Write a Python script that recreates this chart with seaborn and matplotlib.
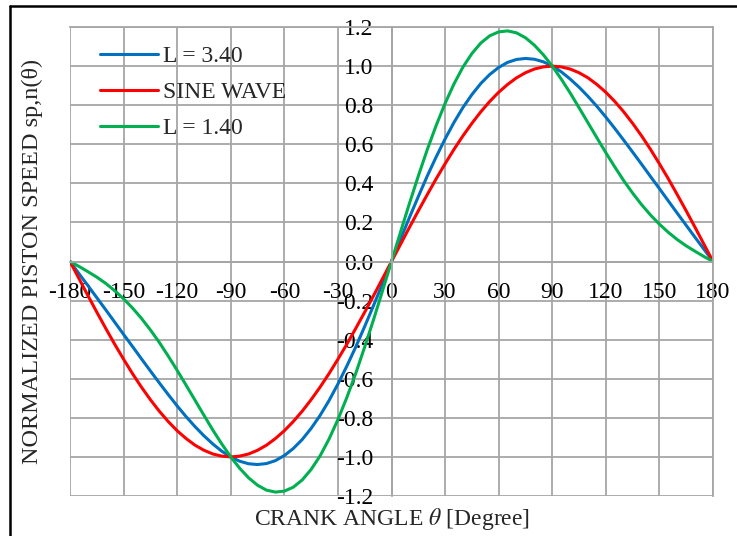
import matplotlib
matplotlib.use("Agg")
import matplotlib.pyplot as plt
import seaborn as sns
import pandas as pd
from matplotlib.lines import Line2D

# Crank angle in degrees (5 degree steps)
theta = [-180, -175, -170, -165, -160, -155, -150, -145, -140, -135, -130, -125,
         -120, -115, -110, -105, -100, -95, -90, -85, -80, -75, -70, -65,
         -60, -55, -50, -45, -40, -35, -30, -25, -20, -15, -10, -5,
         0, 5, 10, 15, 20, 25, 30, 35, 40, 45, 50, 55,
         60, 65, 70, 75, 80, 85, 90, 95, 100, 105, 110, 115,
         120, 125, 130, 135, 140, 145, 150, 155, 160, 165, 170, 175, 180]

# Normalized piston speed, rod ratio L = 3.40
speed_l340 = [0.0, -0.062, -0.123, -0.185, -0.247, -0.310, -0.373, -0.435, -0.498, -0.560,
              -0.621, -0.681, -0.739, -0.794, -0.845, -0.892, -0.934, -0.971, -1.0,
              -1.022, -1.035, -1.039, -1.034, -1.019, -0.993, -0.957, -0.911, -0.854,
              -0.788, -0.712, -0.627, -0.535, -0.437, -0.332, -0.224, -0.113,
              0.0, 0.113, 0.224, 0.332, 0.437, 0.535, 0.627, 0.712, 0.788, 0.854,
              0.911, 0.957, 0.993, 1.019, 1.034, 1.039, 1.035, 1.022, 1.0,
              0.971, 0.934, 0.892, 0.845, 0.794, 0.739, 0.681, 0.621, 0.560,
              0.498, 0.435, 0.373, 0.310, 0.247, 0.185, 0.123, 0.062, 0.0]

# Pure sine wave reference
speed_sine = [0.0, -0.087, -0.174, -0.259, -0.342, -0.423, -0.5, -0.574, -0.643, -0.707,
              -0.766, -0.819, -0.866, -0.906, -0.940, -0.966, -0.985, -0.996, -1.0,
              -0.996, -0.985, -0.966, -0.940, -0.906, -0.866, -0.819, -0.766, -0.707,
              -0.643, -0.574, -0.5, -0.423, -0.342, -0.259, -0.174, -0.087,
              0.0, 0.087, 0.174, 0.259, 0.342, 0.423, 0.5, 0.574, 0.643, 0.707,
              0.766, 0.819, 0.866, 0.906, 0.940, 0.966, 0.985, 0.996, 1.0,
              0.996, 0.985, 0.966, 0.940, 0.906, 0.866, 0.819, 0.766, 0.707,
              0.643, 0.574, 0.5, 0.423, 0.342, 0.259, 0.174, 0.087, 0.0]

# Normalized piston speed, rod ratio L = 1.40
speed_l140 = [0.0, -0.025, -0.052, -0.080, -0.112, -0.149, -0.191, -0.238, -0.291, -0.350,
              -0.414, -0.484, -0.557, -0.633, -0.710, -0.787, -0.863, -0.934, -1.0,
              -1.058, -1.107, -1.145, -1.170, -1.180, -1.175, -1.155, -1.118, -1.064,
              -0.995, -0.909, -0.809, -0.696, -0.572, -0.437, -0.296, -0.149,
              0.0, 0.149, 0.296, 0.437, 0.572, 0.696, 0.809, 0.909, 0.995, 1.064,
              1.118, 1.155, 1.175, 1.180, 1.170, 1.145, 1.107, 1.058, 1.0,
              0.934, 0.863, 0.787, 0.710, 0.633, 0.557, 0.484, 0.414, 0.350,
              0.291, 0.238, 0.191, 0.149, 0.112, 0.080, 0.052, 0.025, 0.0]

series_names = ["L = 3.40", "SINE WAVE", "L = 1.40"]
series_colors = ["#0070C0", "#FF0000", "#00B050"]

x_ticks = [-180, -150, -120, -90, -60, -30, 0, 30, 60, 90, 120, 150, 180]
y_ticks = [-1.2, -1.0, -0.8, -0.6, -0.4, -0.2, 0.0, 0.2, 0.4, 0.6, 0.8, 1.0, 1.2]

df = pd.DataFrame({
    "theta": theta * 3,
    "speed": speed_l340 + speed_sine + speed_l140,
    "series": [series_names[0]] * len(theta) + [series_names[1]] * len(theta)
              + [series_names[2]] * len(theta),
})

sns.set_style("white")
plt.rcParams["font.family"] = ["Liberation Serif", "DejaVu Serif"]
plt.rcParams["mathtext.fontset"] = "stix"

FS = 17

fig = plt.figure(figsize=(7.37, 5.36), dpi=100)
ax = fig.add_axes([70 / 737, 1 - 496 / 536, 643 / 737, 469 / 536])

grid_color = "#A6A6A6"
sns.lineplot(data=df, x="theta", y="speed", hue="series", hue_order=series_names,
             palette=series_colors, linewidth=2.2, ax=ax, legend=False, sort=False)

ax.set_xlim(-180, 180)
ax.set_ylim(-1.2, 1.2)
ax.set_xticks(x_ticks)
ax.set_yticks(y_ticks)
ax.set_xticklabels([str(v) for v in x_ticks])
ax.set_yticklabels([f"{v:.1f}" for v in y_ticks])
ax.grid(True, color=grid_color, linewidth=1.3)
ax.set_axisbelow(True)

for side in ["left", "bottom"]:
    ax.spines[side].set_position(("data", 0))
for side in ax.spines:
    ax.spines[side].set_color(grid_color)
    ax.spines[side].set_linewidth(1.3)

ax.tick_params(axis="both", length=0, labelsize=FS, colors="black")
ax.tick_params(axis="y", pad=13)
ax.tick_params(axis="x", pad=15)

ax.set_xlabel(r"CRANK ANGLE $\theta$ [Degree]", fontsize=FS)
ax.set_ylabel("NORMALIZED PISTON SPEED sp,n(θ)", fontsize=17.5)
ax.xaxis.set_label_coords(0.5, -0.021)
ax.yaxis.set_label_coords(-0.042, 0.5)

handles = [Line2D([], [], color=c, linewidth=2.2) for c in series_colors]
ax.legend(handles, series_names, loc="upper left", bbox_to_anchor=(0.032, 0.981),
          frameon=False, fontsize=FS, handlelength=2.46, handletextpad=0.21,
          labelspacing=0.62, borderaxespad=0.0)

# Frame lines along the left and top of the figure
fig.add_artist(Line2D([10 / 737, 10 / 737], [0, 1 - 5.5 / 536], color="black",
                      linewidth=1.8, transform=fig.transFigure))
fig.add_artist(Line2D([10 / 737, 1], [1 - 5.5 / 536, 1 - 5.5 / 536], color="black",
                      linewidth=1.8, transform=fig.transFigure))

fig.savefig("out.png", dpi=100)
